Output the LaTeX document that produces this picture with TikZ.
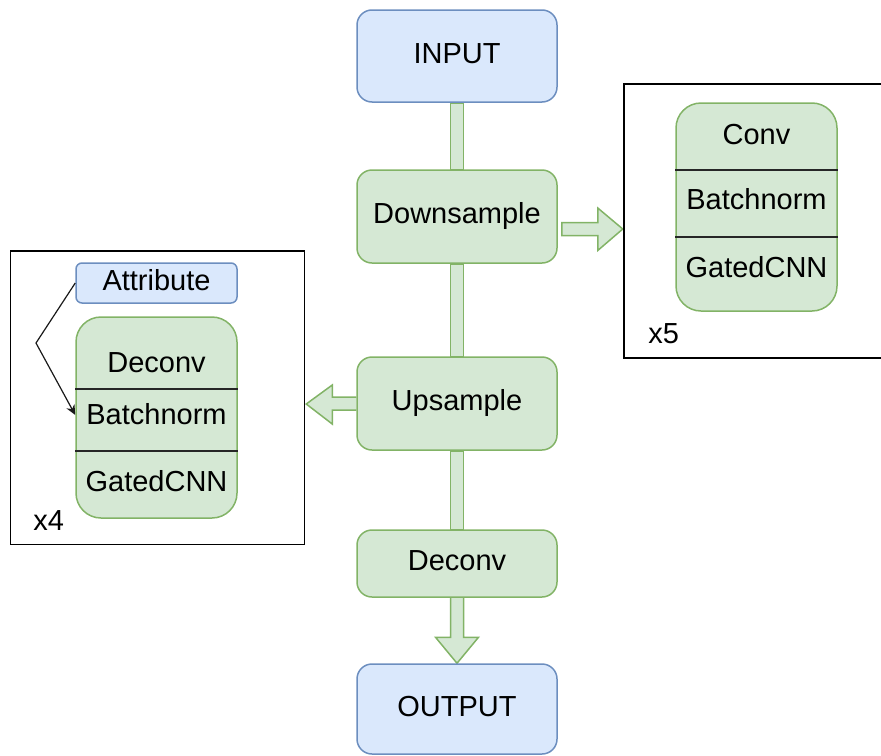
\documentclass[tikz,border=0pt]{standalone}
\usepackage{fontspec}
\setmainfont{Liberation Sans}
\usetikzlibrary{calc,arrows.meta,backgrounds}
\definecolor{gfill}{HTML}{D5E8D4}
\definecolor{gline}{HTML}{82B366}
\definecolor{bfill}{HTML}{DAE8FC}
\definecolor{bline}{HTML}{6C8EBF}

\begin{document}
\begin{tikzpicture}[x=0.5pt,y=-0.5pt,
  font=\fontsize{14.5}{17}\selectfont,
  lbl/.style={inner sep=0pt, text height=10.5pt, text depth=3.5pt},
  stage/.style={lbl, draw=gline, fill=gfill, line width=0.75pt, rounded corners=7.5pt, minimum width=100pt},
  io/.style={lbl, draw=bline, fill=bfill, line width=0.75pt, rounded corners=7.5pt, minimum width=100pt},
  stack/.style={draw=gline, fill=gfill, line width=0.75pt, rounded corners=12.5pt, minimum width=80.5pt, inner sep=0pt},
  cell/.style={inner sep=0pt, anchor=base},
  divider/.style={draw=black!85, line width=0.65pt},
  frame/.style={draw=black, line width=0.75pt, inner sep=0pt, anchor=north west},
  flow/.style={draw=gline, fill=gfill, line width=0.75pt, line join=miter},
  link/.style={draw=black!90, line width=0.6pt, -{Stealth[length=5pt,width=4.5pt]}}
]
\useasboundingbox (0,0) rectangle (881,755);

% main pipeline
\node[io, minimum height=46pt] (in) at (457,56) {INPUT};
\node[stage, minimum height=46.5pt] (down) at (457,216.5) {Downsample};
\node[stage, minimum height=46.5pt] (up) at (457,403.5) {Upsample};
\node[stage, minimum height=33.5pt] (dec) at (457,563.5) {Deconv};
\node[io, minimum height=45pt] (out) at (457,709) {OUTPUT};

% encoder block (repeated five times)
\node[frame, minimum width=130pt, minimum height=137pt] (rframe) at (623,83) {};
\node[stack, minimum height=104pt] (rstack) at (756.5,207) {};
\draw[divider] (rstack.west |- 0,170) -- (rstack.east |- 0,170);
\draw[divider] (rstack.west |- 0,237) -- (rstack.east |- 0,237);
\node[cell] (rconv) at (756.5,144) {Conv};
\node[cell] (rbn) at (756.5,209) {Batchnorm};
\node[cell] (rgc) at (756.5,277) {GatedCNN};
\node[cell, anchor=base west] (rcount) at (648,343) {x5};

% decoder block (repeated four times)
\node[frame, minimum width=147pt, minimum height=146.75pt] (lframe) at (9.5,250) {};
\node[io, minimum width=80.5pt, minimum height=20pt, rounded corners=3pt] (attr) at (156.5,283) {Attribute};
\node[stack, minimum height=100.5pt] (lstack) at (156.5,417.5) {};
\draw[divider] (lstack.west |- 0,389) -- (lstack.east |- 0,389);
\draw[divider] (lstack.west |- 0,451) -- (lstack.east |- 0,451);
\node[cell] (ldec) at (156.5,372) {Deconv};
\node[cell] (lbn) at (156.5,424) {Batchnorm};
\node[cell] (lgc) at (156.5,491) {GatedCNN};
\node[cell, anchor=base west] (lcount) at (33,530) {x4};

% attribute injected into the batchnorm layer
\coordinate (bend) at (36,343);
\draw[link] (attr.west) -- (bend) -- ($(lstack.west)+(0,-2.5)$);

% block arrows, kept behind the boxes
\begin{pgfonlayer}{background}
  \draw[flow] ($(in.south)+(-6.5,0)$) rectangle ($(down.north)+(6.5,0)$);
  \draw[flow] ($(down.south)+(-6.5,0)$) rectangle ($(up.north)+(6.5,0)$);
  \draw[flow] ($(up.south)+(-6.5,0)$) rectangle ($(dec.north)+(6.5,0)$);
  \draw[flow] ($(dec.south)+(-6.5,0)$) -- ($(out.north)+(-6.5,-26)$)
     -- ($(out.north)+(-21.5,-26)$) -- (out.north) -- ($(out.north)+(21.5,-26)$)
     -- ($(out.north)+(6.5,-26)$) -- ($(dec.south)+(6.5,0)$);
  \coordinate (ra) at ($(down.east)+(4,12.5)$);
  \draw[flow] ($(ra)+(0,-6.5)$) -- ++(36,0) -- ++(0,-14.5) -- ++(25,21)
     -- ++(-25,21.5) -- ++(0,-15) -- ++(-36,0) -- cycle;
  \draw[flow] ($(up.west)+(0,-6.5)$) -- ++(-24,0) -- ++(0,-12) -- ++(-26,19)
     -- ++(26,20) -- ++(0,-14) -- ++(24,0);
\end{pgfonlayer}
\end{tikzpicture}
\end{document}
